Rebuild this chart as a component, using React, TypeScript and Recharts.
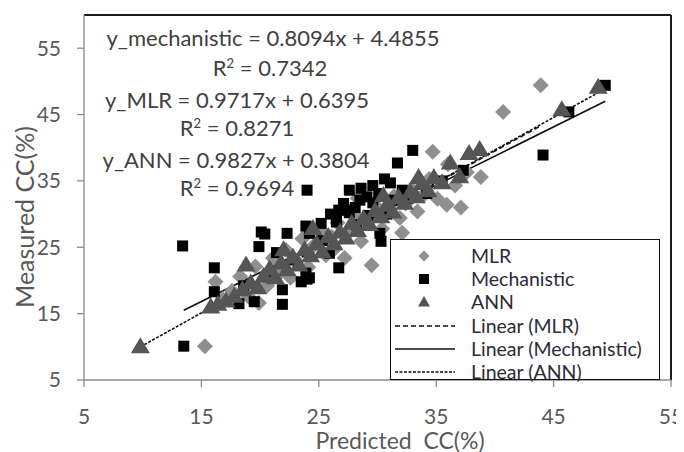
import React from "react";
import { ScatterChart, Scatter, XAxis, YAxis, ReferenceLine } from "recharts";

// ---- data ----
const mlrPoints: [number, number][] = [
  [15.3, 10.1], [16.2, 19.8], [16.8, 17.2], [17.6, 18.4], [18.3, 20.6], [19.0, 17.6], [19.6, 22.1], [19.9, 16.6],
  [20.6, 19.2], [21.1, 23.4], [21.6, 21.0], [22.2, 24.6], [22.6, 20.4], [23.1, 22.9], [23.6, 26.3], [24.1, 22.0],
  [24.6, 25.3], [25.1, 27.6], [25.6, 23.8], [26.1, 26.6], [26.6, 28.7], [27.2, 23.4], [27.6, 27.3], [28.1, 29.8],
  [28.6, 25.9], [29.1, 28.6], [29.5, 22.3], [29.9, 31.2], [30.4, 27.8], [30.9, 30.3], [31.4, 32.7], [31.9, 29.4],
  [32.4, 31.6], [32.9, 33.8], [33.4, 30.4], [33.9, 32.8], [34.4, 35.3], [34.7, 39.4], [35.1, 32.3], [35.9, 31.4],
  [36.6, 34.3], [37.1, 31.0], [37.6, 36.3], [38.8, 35.6], [40.7, 45.4], [43.9, 49.4], [28.3, 32.4], [26.3, 24.7],
  [32.1, 27.2], [36.0, 37.5],
];
const mechanisticPoints: [number, number][] = [
  [13.5, 10.1], [13.4, 25.2], [16.1, 21.9], [16.1, 18.3], [18.2, 16.5], [19.5, 16.8], [21.9, 18.6], [21.9, 16.4],
  [20.1, 27.3], [20.4, 27.0], [19.9, 25.1], [22.3, 27.1], [21.4, 24.2], [23.9, 28.2], [24.2, 27.1], [26.5, 29.2],
  [27.3, 30.6], [26.7, 21.9], [23.5, 19.8], [24.0, 20.2], [24.0, 33.6], [33.0, 39.6], [31.7, 37.7], [27.6, 33.6],
  [28.6, 33.9], [29.6, 34.3], [31.1, 34.7], [28.5, 32.1], [29.6, 31.7], [26.7, 30.6], [27.6, 30.2], [26.5, 28.8],
  [30.3, 25.9], [30.2, 27.1], [23.9, 21.1], [25.9, 24.1], [44.1, 38.9], [49.4, 49.4], [46.3, 45.4], [24.2, 20.4],
  [25.3, 26.0], [28.2, 28.4], [30.8, 30.0], [32.6, 32.4], [34.2, 33.1], [35.5, 35.0], [37.3, 36.6], [22.8, 23.1],
  [20.9, 21.0], [18.6, 19.2], [26.0, 30.0], [27.1, 31.6], [28.1, 31.0], [29.1, 32.6], [30.1, 33.1], [31.0, 32.1],
  [29.2, 29.8], [32.1, 33.6], [25.2, 28.6], [30.6, 35.3],
];
const annPoints: [number, number][] = [
  [9.8, 10.0], [15.8, 16.0], [16.4, 16.4], [17.1, 16.9], [17.8, 17.6], [18.8, 22.3], [18.5, 18.6], [19.2, 19.6],
  [19.8, 18.9], [20.3, 20.6], [20.8, 21.7], [21.3, 20.4], [21.8, 22.6], [22.3, 21.6], [22.8, 23.5], [23.3, 22.3],
  [23.8, 24.6], [24.3, 23.7], [24.5, 27.8], [24.8, 25.5], [25.3, 24.3], [25.8, 26.6], [26.3, 25.5], [26.8, 27.3],
  [27.3, 26.4], [27.8, 28.6], [28.3, 27.5], [28.8, 29.3], [29.3, 28.4], [29.8, 30.5], [30.3, 29.6], [30.5, 32.8],
  [30.8, 31.3], [31.3, 30.3], [31.8, 32.5], [32.3, 31.6], [32.8, 33.3], [33.3, 32.6], [33.5, 35.5], [33.8, 34.6],
  [34.3, 33.5], [34.8, 35.5], [35.5, 34.7], [36.2, 37.7], [37.0, 35.6], [37.8, 39.1], [38.7, 39.7], [45.7, 45.7],
  [48.8, 49.1], [22.0, 24.6],
];

// trendline end points as drawn in the reference: [xFrom, yFrom, xTo, yTo]
const mlrTrend = [15.3, 15.5, 43.9, 43.3];
const mechanisticTrend = [13.5, 15.5, 49.4, 47.0];
const annTrend = [9.8, 10.0, 48.8, 48.3];

const xTicks = [5, 15, 25, 35, 45, 55];
const yTicks = [5, 15, 25, 35, 45, 55];
const equationLines = [
  "y_mechanistic = 0.8094x + 4.4855",
  "0.7342",
  "y_MLR = 0.9717x + 0.6395",
  "0.8271",
  "y_ANN = 0.9827x + 0.3804",
  "0.9694",
];
const legendNames = ["MLR", "Mechanistic", "ANN", "Linear (MLR)", "Linear (Mechanistic)", "Linear (ANN)"];

const FONT = "Lato, 'Open Sans', sans-serif";
const C_MLR = "#8f8f8f";
const C_ANN = "#555555";
const C_MECH = "#000000";

const toRows = (pts: [number, number][]) => pts.map(([x, y]) => ({ x, y }));
const seg = (t: number[]) => [
  { x: t[0], y: t[1] },
  { x: t[2], y: t[3] },
];

const Diamond = (p: any) => {
  const r = 8;
  return (
    <polygon
      points={`${p.cx},${p.cy - r} ${p.cx + r},${p.cy} ${p.cx},${p.cy + r} ${p.cx - r},${p.cy}`}
      fill={C_MLR}
    />
  );
};
const Square = (p: any) => {
  const s = 11;
  return <rect x={p.cx - s / 2} y={p.cy - s / 2} width={s} height={s} fill={C_MECH} />;
};
const Triangle = (p: any) => {
  const w = 9.5;
  const h = 16;
  return (
    <polygon
      points={`${p.cx},${p.cy - h * 0.6} ${p.cx + w},${p.cy + h * 0.4} ${p.cx - w},${p.cy + h * 0.4}`}
      fill={C_ANN}
    />
  );
};

const LegendMarker = ({ i }: { i: number }) => {
  const cx = 33;
  const cy = 9;
  if (i === 0)
    return <polygon points={`${cx},${cy - 5.5} ${cx + 5.5},${cy} ${cx},${cy + 5.5} ${cx - 5.5},${cy}`} fill={C_MLR} />;
  if (i === 1) return <rect x={cx - 5} y={cy - 5} width={10} height={10} fill={C_MECH} />;
  if (i === 2) return <polygon points={`${cx},${cy - 6} ${cx + 6},${cy + 4.5} ${cx - 6},${cy + 4.5}`} fill={C_ANN} />;
  const dash = i === 3 ? "5 3" : i === 4 ? undefined : "3 1.5";
  return <line x1={4} x2={64} y1={cy} y2={cy} stroke="#111" strokeWidth={1.6} strokeDasharray={dash} />;
};

const eqPos = [
  { x: 265, y: 30 },
  { x: 262, y: 60 },
  { x: 229, y: 92 },
  { x: 229, y: 120 },
  { x: 228, y: 152 },
  { x: 229, y: 180 },
];

export default function App() {
  return (
    <div style={{ position: "relative", width: 676, height: 444, background: "#fff", fontFamily: FONT }}>
      <ScatterChart width={676} height={444} margin={{ top: 7, right: 13, left: 0, bottom: 0 }}>
        <XAxis
          type="number"
          dataKey="x"
          domain={[5, 55]}
          ticks={xTicks}
          interval={0}
          height={72}
          tickSize={7}
          tickMargin={22}
          axisLine={{ stroke: "#8a8a8a", strokeWidth: 1.3 }}
          tickLine={{ stroke: "#8a8a8a", strokeWidth: 1.3 }}
          tick={{ fill: "#595959", fontSize: 21, fontFamily: FONT }}
        />
        <YAxis
          type="number"
          dataKey="y"
          domain={[5, 60]}
          ticks={yTicks}
          interval={0}
          width={76}
          tickSize={7}
          tickMargin={16}
          axisLine={{ stroke: "#8a8a8a", strokeWidth: 1.3 }}
          tickLine={{ stroke: "#8a8a8a", strokeWidth: 1.3 }}
          tick={{ fill: "#595959", fontSize: 21, fontFamily: FONT }}
        />
        <ReferenceLine y={60} stroke="#1a1a1a" strokeWidth={2} />
        <ReferenceLine x={55} stroke="#1a1a1a" strokeWidth={2} />
        <Scatter name="MLR" data={toRows(mlrPoints)} shape={Diamond} isAnimationActive={false} />
        <Scatter name="Mechanistic" data={toRows(mechanisticPoints)} shape={Square} isAnimationActive={false} />
        <Scatter name="ANN" data={toRows(annPoints)} shape={Triangle} isAnimationActive={false} />
        <ReferenceLine segment={seg(mlrTrend)} stroke="#111" strokeWidth={1.6} strokeDasharray="5 3" />
        <ReferenceLine segment={seg(mechanisticTrend)} stroke="#111" strokeWidth={1.6} />
        <ReferenceLine segment={seg(annTrend)} stroke="#111" strokeWidth={1.6} strokeDasharray="3 1.5" />
      </ScatterChart>

      {equationLines.map((t, i) => (
        <div
          key={i}
          style={{
            position: "absolute",
            left: eqPos[i].x,
            top: eqPos[i].y,
            transform: "translate(-50%, -50%)",
            whiteSpace: "nowrap",
            fontSize: 22,
            color: "#404040",
            lineHeight: 1,
          }}
        >
          {i % 2 === 1 ? (
            <span>
              R<sup style={{ fontSize: 13, verticalAlign: "8px" }}>2</sup> = {t}
            </span>
          ) : (
            t
          )}
        </div>
      ))}

      <div
        style={{
          position: "absolute",
          left: 16,
          top: 209,
          transform: "translate(-50%, -50%) rotate(-90deg)",
          whiteSpace: "nowrap",
          fontSize: 25,
          color: "#595959",
          lineHeight: 1,
        }}
      >
        Measured CC(%)
      </div>
      <div
        style={{
          position: "absolute",
          left: 392,
          top: 432,
          transform: "translate(-50%, -50%)",
          whiteSpace: "pre",
          fontSize: 23,
          color: "#595959",
          lineHeight: 1,
        }}
      >
        {"Predicted  CC(%)"}
      </div>

      <div
        style={{
          position: "absolute",
          left: 382,
          top: 231,
          width: 270,
          height: 141,
          boxSizing: "border-box",
          border: "1.6px solid #111",
          background: "#fff",
          paddingTop: 4,
        }}
      >
        {legendNames.map((n, i) => (
          <div key={n} style={{ display: "flex", alignItems: "center", height: 23.3 }}>
            <svg width={80} height={18} style={{ flex: "none" }}>
              <LegendMarker i={i} />
            </svg>
            <span style={{ fontSize: 19.5, color: "#2b2b3a", whiteSpace: "nowrap", lineHeight: 1 }}>{n}</span>
          </div>
        ))}
      </div>
    </div>
  );
}
